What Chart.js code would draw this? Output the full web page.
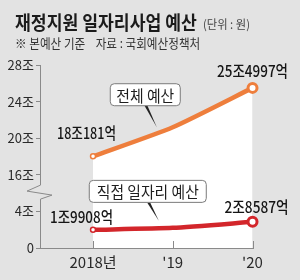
<!DOCTYPE html>
<html>
<head>
<meta charset="utf-8">
<script src="https://cdn.jsdelivr.net/npm/chart.js@4/dist/chart.umd.min.js"></script>
<style>
  html, body { margin: 0; padding: 0; background: #e3e3e3; }
  #wrap { position: relative; width: 300px; height: 280px; overflow: hidden; background: #e3e3e3; }
  #c { position: absolute; left: 0; top: 0; }
  .t { position: absolute; white-space: pre; transform-origin: 0 50%; font-family: 'Noto Sans CJK KR', sans-serif; }
  #title { left: 15px; top: 11.5px; font-size: 19px; line-height: 19px; font-weight: bold; color: #1b1b1b; }
  #unit { left: 203px; top: 18px; font-size: 12px; line-height: 12px; color: #444; }
  #sub { left: 15px; top: 36px; font-size: 13px; line-height: 13px; color: #333; }
</style>
</head>
<body>
<div id="wrap">
  <canvas id="c" width="300" height="280"></canvas>
  <div class="t" id="title">재정지원 일자리사업 예산</div>
  <div class="t" id="unit">(단위 : 원)</div>
  <div class="t" id="sub">※ 본예산 기준    자료 : 국회예산정책처</div>
</div>
<script>
// ---- data (조원) ----
const years = [2018, 2019, 2020];
const xTickLabels = ["2018년", "'19", "'20"];
const totalBudget = [18.0181, 21.2, 25.4997];
const directJobs = [1.9908, 2.2, 2.8587];
const totalLabels = ["18조181억", "", "25조4997억"];
const directLabels = ["1조9908억", "", "2조8587억"];
const yTickValues = [0, 4, 16, 20, 24, 28];
const yTickLabels = ["0", "4조", "16조", "20조", "24조", "28조"];
const seriesNames = ["전체 예산", "직접 일자리 예산"];

// broken axis: 4조 ~ 16조 compressed into one step
function brk(v) { return v <= 4 ? v : (v >= 16 ? v - 8 : 4 + (v - 4) / 3); }

const ORANGE = '#ee7e3c';
const RED = '#d3262b';
const AXIS = '#8a8a8a';
const NUMFONT = "'Liberation Sans Narrow', 'Noto Sans CJK KR', sans-serif";
const KFONT = "'Noto Sans CJK KR', sans-serif";

function fitW(el, w) { el.style.transform = 'scaleX(' + (w / el.offsetWidth) + ')'; }
fitW(document.getElementById('title'), 182);
fitW(document.getElementById('unit'), 47);
fitW(document.getElementById('sub'), 185);

function fitText(ctx, text, cx, cy, w, font, color) {
  ctx.save();
  ctx.font = font; ctx.fillStyle = color;
  ctx.textBaseline = 'middle'; ctx.textAlign = 'left';
  const nat = ctx.measureText(text).width;
  ctx.translate(cx - w / 2, cy);
  ctx.scale(w / nat, 1);
  ctx.fillText(text, 0, 0);
  ctx.restore();
}

function callout(ctx, text, bx, by, bw, bh, tw, p0, p1) {
  ctx.save();
  ctx.fillStyle = '#222';
  ctx.beginPath();
  ctx.moveTo(p0[0] - 1.5, p0[1]);
  ctx.lineTo(p0[0] + 1.5, p0[1]);
  ctx.lineTo(p1[0], p1[1]);
  ctx.closePath();
  ctx.fill();
  ctx.fillStyle = '#fff';
  ctx.strokeStyle = '#7a7a7a';
  ctx.lineWidth = 1;
  ctx.beginPath();
  ctx.roundRect(bx + 0.5, by + 0.5, bw, bh, 4);
  ctx.fill(); ctx.stroke();
  ctx.restore();
  fitText(ctx, text, bx + bw / 2 + 0.5, by + bh / 2 + 1.5, tw, "16px " + KFONT, '#1e1e1e');
}

const decor = {
  id: 'decor',
  afterDraw(chart) {
    const ctx = chart.ctx;
    const xs = chart.scales.x, ys = chart.scales.y;
    const ax = chart.chartArea.left, bottom = chart.chartArea.bottom;
    // axis break
    const yb = ys.getPixelForValue(brk(10));
    ctx.save();
    ctx.fillStyle = '#e3e3e3';
    ctx.fillRect(ax - 2, yb - 8, 4, 14);
    ctx.strokeStyle = AXIS; ctx.lineWidth = 1;
    ctx.beginPath();
    ctx.moveTo(ax + 0.5, yb - 8);
    ctx.lineTo(ax - 13, yb - 2);
    ctx.lineTo(ax + 12, yb + 2);
    ctx.lineTo(ax + 0.5, yb + 6);
    ctx.stroke();
    years.forEach(function (yr) {
      const px = Math.round(xs.getPixelForValue(yr)) + 0.5;
      ctx.beginPath(); ctx.moveTo(px, bottom); ctx.lineTo(px, bottom - 7); ctx.stroke();
    });
    ctx.restore();

    const m0 = chart.getDatasetMeta(1).data; // total
    const m1 = chart.getDatasetMeta(0).data; // direct
    const lf = "500 16px " + KFONT;
    fitText(ctx, totalLabels[0], m0[0].x - 6.5, m0[0].y - 23, 59, lf, '#151515');
    fitText(ctx, totalLabels[2], m0[2].x, m0[2].y - 16.5, 71, lf, '#151515');
    fitText(ctx, directLabels[0], m1[0].x - 11.5, m1[0].y - 13, 63, lf, '#151515');
    fitText(ctx, directLabels[2], m1[2].x + 4, m1[2].y - 15, 64, lf, '#151515');

    const tx = m0[1].x - 16, ty = m0[1].y;
    callout(ctx, seriesNames[0], tx - 47, ty - 44, 70, 22, 58, [tx - 11, ty - 22], [tx, ty]);
    const dx = m1[1].x - 14, dy = m1[1].y - 7;
    callout(ctx, seriesNames[1], dx - 70, dy - 41, 117, 22, 102, [dx - 10, dy - 18], [dx, dy]);
  }
};

new Chart(document.getElementById('c'), {
  type: 'line',
  data: {
    datasets: [
      {
        label: seriesNames[1],
        data: years.map(function (y, i) { return { x: y, y: brk(directJobs[i]) }; }),
        borderColor: RED, borderWidth: 4.5, tension: 0.2, fill: false,
        pointRadius: [2.5, 0, 4.5], pointBorderWidth: [1.5, 0, 3],
        pointBackgroundColor: '#fff', pointBorderColor: RED,
        clip: false
      },
      {
        label: seriesNames[0],
        data: years.map(function (y, i) { return { x: y, y: brk(totalBudget[i]) }; }),
        borderColor: ORANGE, borderWidth: 4.5, tension: 0.2,
        fill: 'origin', backgroundColor: '#ffffff',
        pointRadius: [2.5, 0, 4.5], pointBorderWidth: [1.5, 0, 3],
        pointBackgroundColor: '#fff', pointBorderColor: ORANGE,
        clip: false
      }
    ]
  },
  options: {
    responsive: false, animation: false, devicePixelRatio: 1,
    layout: { padding: { top: 65, right: 47, left: 0, bottom: 0 } },
    plugins: {
      legend: { display: false }, tooltip: { enabled: false }, title: { display: false },
      filler: { drawTime: 'beforeDatasetsDraw' }
    },
    scales: {
      x: {
        type: 'linear', min: 2017.335, max: 2020.006, z: 1,
        afterBuildTicks: function (s) { s.ticks = years.map(function (v) { return { value: v }; }); },
        afterFit: function (s) { s.height = 32; },
        grid: { display: true, drawOnChartArea: false, drawTicks: false },
        border: { display: true, color: AXIS, width: 1 },
        ticks: {
          padding: 5, color: '#2a2a2a', maxRotation: 0, autoSkip: false,
          font: { family: NUMFONT, size: 15 },
          callback: function (v, i) { return xTickLabels[i]; }
        }
      },
      y: {
        type: 'linear', min: 0, max: 20,
        afterBuildTicks: function (s) { s.ticks = yTickValues.map(function (v) { return { value: brk(v) }; }); },
        afterFit: function (s) { s.width = 40; },
        grid: { display: true, drawOnChartArea: false, drawTicks: true, tickLength: 4, color: AXIS },
        border: { display: true, color: AXIS, width: 1 },
        ticks: {
          padding: 2, color: '#2a2a2a', autoSkip: false,
          font: { family: NUMFONT, size: 13 },
          callback: function (v, i) { return yTickLabels[i]; }
        }
      }
    }
  },
  plugins: [decor]
});
</script>
</body>
</html>
